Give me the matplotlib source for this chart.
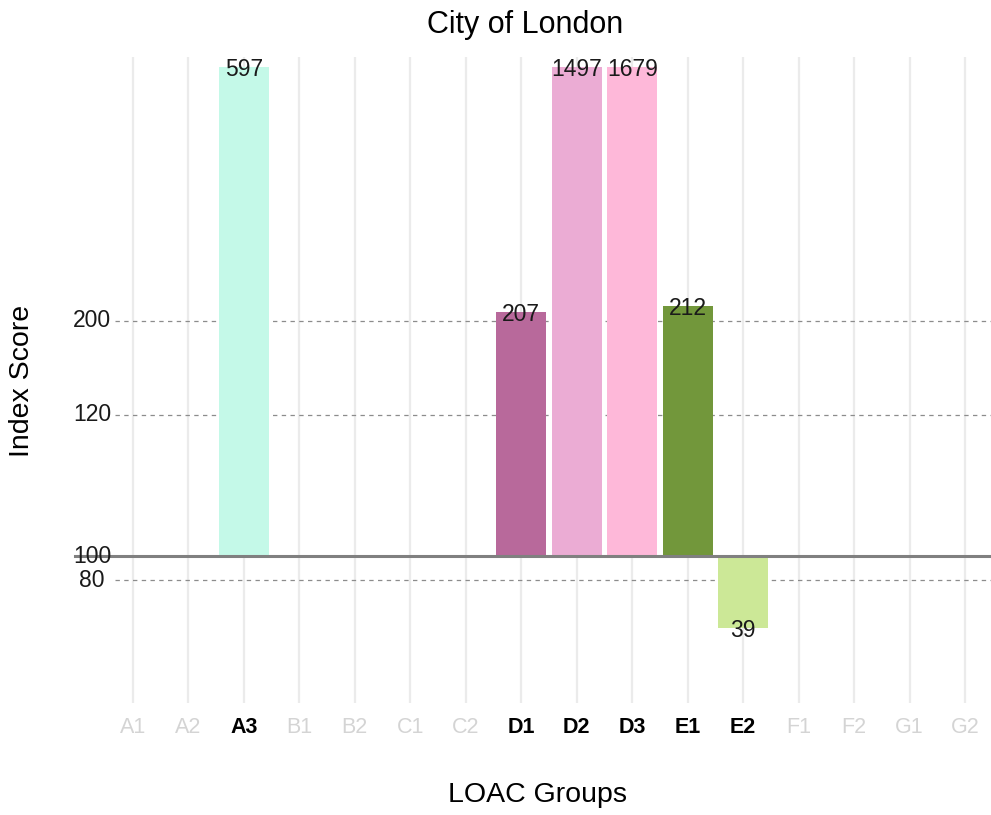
import matplotlib.pyplot as plt

# Datos del grafico
grupos = ['A1', 'A2', 'A3', 'B1', 'B2', 'C1', 'C2', 'D1', 'D2', 'D3',
          'E1', 'E2', 'F1', 'F2', 'G1', 'G2']
indices = [None, None, 597, None, None, None, None, 207, 1497, 1679,
           212, 39, None, None, None, None]
colores = {'A3': '#c4f9e8', 'D1': '#b8699b', 'D2': '#ebacd4', 'D3': '#feb8d9',
           'E1': '#72973b', 'E2': '#cce897'}
marcas_y = [-20, 0, 120, 200]
etiquetas_y = ['80', '100', '120', '200']

TOPE = 415      # las barras muy altas se cortan aqui


def altura(v):
    # por encima de 100 se pinta el valor, por debajo la diferencia
    if v >= 100:
        return min(v, TOPE)
    return v - 100


plt.rcParams['font.family'] = ['Liberation Sans', 'DejaVu Sans']

W, H = 991, 815
fig = plt.figure(figsize=(W / 100, H / 100), dpi=100)
ax = fig.add_axes([115 / W, (H - 703) / H, 876 / W, 646 / H])

x = list(range(1, len(grupos) + 1))
ax.set_xlim(1 - 18 / 55.47, 16 + 26 / 55.47)
ax.set_ylim(-124.3, 423.6)

# rejilla vertical
for xi in x:
    ax.axvline(xi, color='#ebebeb', lw=1.6, zorder=0)
# lineas discontinuas
for yv in marcas_y:
    if yv != 0:
        ax.axhline(yv, color='#8c8c8c', lw=0.9, ls=(0, (3.5, 3.5)), zorder=0.5)

for xi, g, v in zip(x, grupos, indices):
    if v is None:
        continue
    h = altura(v)
    ax.bar(xi, h, width=0.9, color=colores[g], zorder=1)
    ax.annotate(str(v), xy=(xi, h), xytext=(0, -2), textcoords='offset pixels',
                ha='center', va='center', fontsize=16.5, color='#1a1a1a', zorder=3)

# linea base en 100 (sale un poco por la izquierda)
ax.plot([(75 - 115) / 876, 1], [0, 0], transform=ax.get_yaxis_transform(),
        color='#808080', lw=2.2, clip_on=False, zorder=2)

for s in ax.spines.values():
    s.set_visible(False)
ax.tick_params(length=0)
ax.set_xticks(x)
ax.set_xticklabels(grupos, fontsize=15.5)
for lab, v in zip(ax.get_xticklabels(), indices):
    if v is None:
        lab.set_color('#d4d4d4')
    else:
        lab.set_color('black')
        lab.set_fontweight('bold')
ax.tick_params(axis='x', pad=10)
ax.set_yticks([])
for yv, t in zip(marcas_y, etiquetas_y):
    ax.annotate(t, xy=(0, yv), xycoords=ax.get_yaxis_transform(),
                xytext=(92 - 115, 0), textcoords='offset pixels',
                ha='center', va='center', fontsize=16.5, color='#1a1a1a')

fig.text(525 / W, 1 - 25 / H, 'City of London', ha='center', va='center', fontsize=22)
fig.text(538 / W, 1 - 795 / H, 'LOAC Groups', ha='center', va='center', fontsize=20.5)
fig.text(22 / W, 1 - 381 / H, 'Index Score', ha='center', va='center',
         rotation=90, fontsize=20.5)

fig.savefig('out.png', dpi=100)
